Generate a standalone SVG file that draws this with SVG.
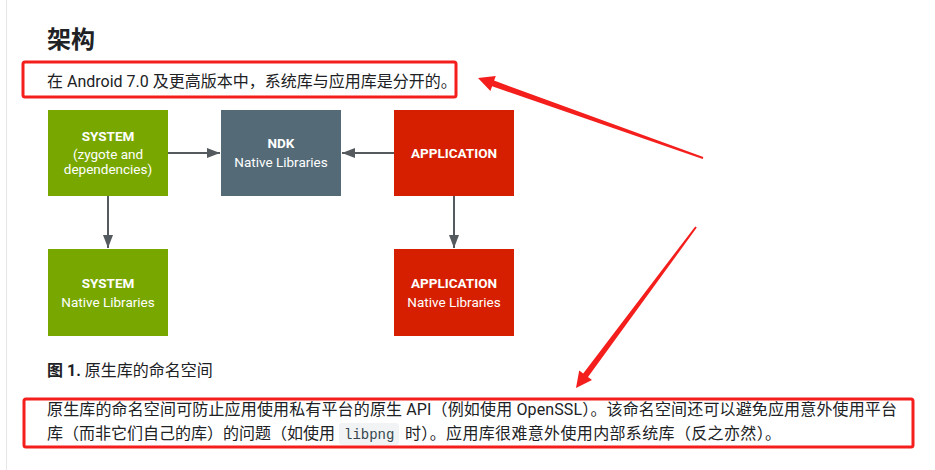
<svg xmlns="http://www.w3.org/2000/svg" width="935" height="470" viewBox="0 0 935 470">
<defs>
<marker id="ah" markerWidth="13" markerHeight="10" refX="13" refY="5" orient="auto" markerUnits="userSpaceOnUse">
<path d="M0,0 L13,5 L0,10 Z" fill="#555a5e"/>
</marker>
</defs>
<style>
.txt{font-family:Roboto,"Noto Sans CJK SC",sans-serif;fill:#202124;font-size:16px}
.h{font-family:"Noto Sans CJK SC",Roboto,sans-serif;font-weight:bold;font-size:24px;fill:#202124}
.nt{font-family:Roboto,"Liberation Sans",sans-serif;fill:#ffffff;font-size:13.5px;text-anchor:middle}
.b{font-weight:bold}
.con{stroke:#555a5e;stroke-width:2;fill:none;marker-end:url(#ah)}
.hl{fill:none;stroke:#f41f1c;stroke-width:3}
.ra{fill:#f41f1c}
.code{font-family:"Liberation Mono","DejaVu Sans Mono",monospace;font-size:14px;fill:#37474f}
</style>
<rect x="0" y="0" width="935" height="470" fill="#ffffff"/>
<line x1="6.5" y1="0" x2="6.5" y2="470" stroke="#e6e6e6" stroke-width="1"/>

<text class="h" x="47" y="48">架构</text>
<text class="txt" x="47" y="87">在 Android 7.0 及更高版本中，系统库与应用库是分开的。</text>

<g id="connectors">
<line class="con" x1="168" y1="153" x2="220" y2="153"/>
<line class="con" x1="394" y1="153" x2="342" y2="153"/>
<line class="con" x1="108" y1="196" x2="108" y2="248"/>
<line class="con" x1="454" y1="196" x2="454" y2="248"/>
</g>

<g id="system">
<rect x="48" y="110" width="120" height="86" fill="#78a800"/>
<text class="nt b" x="108" y="141">SYSTEM</text>
<text class="nt" x="108" y="159">(zygote and</text>
<text class="nt" x="108" y="174">dependencies)</text>
</g>
<g id="ndk">
<rect x="221" y="110" width="120" height="86" fill="#546b77"/>
<text class="nt b" x="281" y="148">NDK</text>
<text class="nt" x="281" y="167">Native Libraries</text>
</g>
<g id="application">
<rect x="394" y="110" width="120" height="86" fill="#d61f00"/>
<text class="nt b" x="454" y="158">APPLICATION</text>
</g>
<g id="system-native">
<rect x="48" y="249" width="120" height="87" fill="#78a800"/>
<text class="nt b" x="108" y="288">SYSTEM</text>
<text class="nt" x="108" y="307">Native Libraries</text>
</g>
<g id="application-native">
<rect x="394" y="249" width="120" height="87" fill="#d61f00"/>
<text class="nt b" x="454" y="288">APPLICATION</text>
<text class="nt" x="454" y="307">Native Libraries</text>
</g>

<text class="txt" x="47" y="376"><tspan class="b">图 1.</tspan> 原生库的命名空间</text>

<text class="txt" x="47" y="415" textLength="850" lengthAdjust="spacing">原生库的命名空间可防止应用使用私有平台的原生 API（例如使用 OpenSSL）。该命名空间还可以避免应用意外使用平台</text>
<text class="txt" x="47" y="439">库（而非它们自己的库）的问题（如使用</text>
<rect x="339" y="423" width="60" height="22" rx="3" fill="#f1f3f4"/>
<text class="code" x="344" y="439">libpng</text>
<text class="txt" x="405" y="439" textLength="376" lengthAdjust="spacing">时）。应用库很难意外使用内部系统库（反之亦然）。</text>

<g id="annotations">
<rect class="hl" x="23" y="62" width="433" height="35" rx="2"/>
<rect class="hl" x="24" y="399" width="889" height="48" rx="2"/>
<polygon class="ra" points="703.3,157.1 494.1,80.6 495.8,75.9 478,78 490.4,90.9 492.1,86.2 702.7,158.9"/>
<polygon class="ra" points="696.8,227.6 588,377 592,380 576,388 579.2,370.4 583.2,373.4 695.2,226.4"/>
</g>
</svg>
